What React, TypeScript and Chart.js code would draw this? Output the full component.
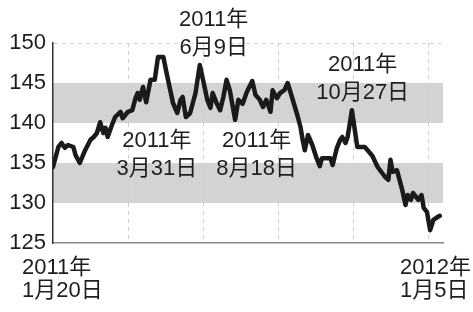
import React, { useEffect, useRef } from "react";
import { Chart, registerables } from "chart.js";

Chart.register(...registerables);

// days since 2011-01-20
const days = [
  0, 5, 8, 11, 14, 19, 21, 25, 30, 35, 38, 41, 44, 47, 49, 51, 55, 58, 63, 65,
  70, 74, 77, 79, 81, 84, 87, 91, 95, 98, 103, 106, 112, 116, 119, 121, 124, 128, 133, 137,
  140, 144, 147, 149, 153, 156, 159, 162, 165, 170, 173, 177, 181, 186, 189, 193, 196, 199, 203, 205,
  209, 212, 216, 219, 223, 228, 231, 233, 235, 238, 242, 246, 249, 251, 259, 261, 265, 268, 270, 273,
  275, 279, 284, 291, 298, 303, 310, 313, 315, 317, 321, 326, 329, 331, 334, 336, 341, 344, 346, 349,
  352, 355, 359, 361,
];
const prices = [
  134.5, 137.0, 137.5, 136.9, 137.25, 137.0, 136.0, 135.0, 136.6, 137.9, 138.25, 138.75, 140.1, 138.75, 139.4, 138.25, 139.75, 140.75, 141.4, 140.6,
  141.4, 141.6, 143.1, 143.75, 142.9, 144.5, 142.6, 145.4, 145.4, 148.25, 148.25, 146.25, 142.5, 141.25, 142.9, 143.25, 140.75, 141.25, 143.75, 147.25,
  145.4, 142.9, 141.9, 143.75, 142.4, 141.6, 143.25, 145.4, 144.1, 140.4, 142.9, 142.4, 143.9, 145.25, 143.5, 142.9, 142.0, 142.9, 141.4, 144.1,
  143.1, 143.75, 144.1, 145.0, 143.25, 141.0, 139.5, 137.9, 136.6, 138.5, 137.25, 135.6, 134.6, 135.6, 135.6, 134.75, 136.9, 137.9, 138.25, 137.5,
  138.25, 141.6, 137.0, 137.0, 135.9, 134.5, 133.25, 132.9, 135.4, 133.9, 134.1, 131.6, 129.75, 131.0, 130.4, 131.25, 130.4, 131.0, 129.4, 128.9,
  126.6, 127.9, 128.25, 128.4,
];

const yTicks = [125, 130, 135, 140, 145, 150];
const xGridDays = [0, 70, 140, 210, 280, 350];
const xEndLabels = [
  { day: 0, lines: ["2011年", "1月20日"] },
  { day: 350, lines: ["2012年", "1月5日"] },
];
const bands = [
  [130, 135],
  [140, 145],
];
const notes = [
  { lines: ["2011年", "6月9日"], day: 150, value: 152.9 },
  { lines: ["2011年", "3月31日"], day: 97, value: 137.7 },
  { lines: ["2011年", "8月18日"], day: 190, value: 137.7 },
  { lines: ["2011年", "10月27日"], day: 289, value: 147.3 },
];

const FONT = "'Liberation Sans', 'Noto Sans CJK JP', sans-serif";
const TEXT = "#1e1e1e";

export default function App() {
  const ref = useRef<HTMLCanvasElement | null>(null);
  useEffect(() => {
    if (!ref.current) return;
    const bandPlugin = {
      id: "bands",
      beforeDraw(chart: any) {
        const { ctx, chartArea, scales } = chart;
        ctx.save();
        ctx.fillStyle = "#d3d3d3";
        for (const [a, b] of bands) {
          const y1 = scales.y.getPixelForValue(b);
          const y2 = scales.y.getPixelForValue(a);
          ctx.fillRect(chartArea.left, y1, chartArea.right - chartArea.left, y2 - y1);
        }
        ctx.restore();
      },
      afterDraw(chart: any) {
        const { ctx, scales } = chart;
        ctx.save();
        ctx.fillStyle = TEXT;
        ctx.font = `22px ${FONT}`;
        ctx.textAlign = "center";
        ctx.textBaseline = "middle";
        for (const n of notes) {
          const x = scales.x.getPixelForValue(n.day);
          const y = scales.y.getPixelForValue(n.value);
          n.lines.forEach((l, i) => ctx.fillText(l, x, y + i * 28));
        }
        ctx.textAlign = "left";
        xEndLabels.forEach((lab, k) => {
          const x = scales.x.getPixelForValue(lab.day) + (k === 0 ? -31 : -28);
          const y = scales.y.bottom + 25;
          lab.lines.forEach((l, i) => ctx.fillText(l, x, y + i * 23));
        });
        ctx.restore();
      },
    };
    const chart = new Chart(ref.current, {
      type: "line",
      data: {
        datasets: [
          {
            data: days.map((d, i) => ({ x: d, y: prices[i] })),
            borderColor: "#1a1a1a",
            borderWidth: 4.5,
            pointRadius: 0,
            tension: 0,
            borderJoinStyle: "round",
            borderCapStyle: "round",
            fill: false,
          },
        ],
      },
      options: {
        animation: false,
        responsive: false,
        events: [],
        layout: { padding: { left: 0, top: 43, right: 30, bottom: 0 } },
        plugins: { legend: { display: false }, tooltip: { enabled: false } },
        scales: {
          x: {
            type: "linear",
            min: 0,
            max: 364,
            afterBuildTicks: (s: any) => {
              s.ticks = xGridDays.map((v) => ({ value: v }));
            },
            afterFit: (s: any) => {
              s.height = 69;
            },
            ticks: { display: false },
            grid: {
              drawTicks: false,
              color: (c: any) => (c.tick && c.tick.value === 0 ? "rgba(0,0,0,0)" : "#cfcfcf"),
              lineWidth: 1,
            },
            border: { display: true, color: "#8a8a8a", width: 1.5, dash: [4, 4] },
          },
          y: {
            min: 125,
            max: 150,
            afterBuildTicks: (s: any) => {
              s.ticks = yTicks.map((v) => ({ value: v }));
            },
            afterFit: (s: any) => {
              s.width = 53;
            },
            ticks: { color: TEXT, font: { size: 22, family: FONT }, padding: 7 },
            grid: {
              drawTicks: false,
              color: (c: any) => (c.tick && c.tick.value === 150 ? "#cfcfcf" : "rgba(0,0,0,0)"),
              lineWidth: 1,
            },
            border: { display: true, color: "#333", width: 1.5, dash: [4, 4] },
          },
        },
      },
      plugins: [bandPlugin],
    } as any);
    return () => chart.destroy();
  }, []);
  return (
    <div style={{ position: "absolute", left: 0, top: 0, width: 473, height: 312 }}>
      <canvas ref={ref} width={473} height={312} style={{ display: "block" }} />
    </div>
  );
}
